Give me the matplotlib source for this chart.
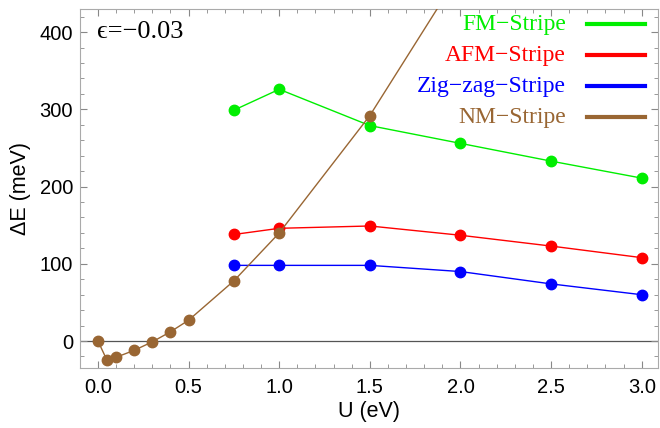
import matplotlib
matplotlib.use("Agg")
import matplotlib.pyplot as plt
from matplotlib.ticker import MultipleLocator

# donnees
u_nm = [0.0, 0.05, 0.1, 0.2, 0.3, 0.4, 0.5, 0.75, 1.0, 1.5, 2.0, 2.5, 3.0]
e_nm = [0, -25, -21, -12, -1, 12, 27, 78, 140, 292, 478, 660, 840]

u_mag = [0.75, 1.0, 1.5, 2.0, 2.5, 3.0]
e_fm = [299, 326, 279, 256, 233, 211]
e_afm = [138, 146, 149, 137, 123, 108]
e_zz = [98, 98, 98, 90, 74, 60]

noms = ["FM\u2212Stripe", "AFM\u2212Stripe", "Zig\u2212zag\u2212Stripe", "NM\u2212Stripe"]
couleurs = ["#00ee00", "#ff0000", "#0000ff", "#996633"]

plt.rcParams['font.family'] = ['Liberation Sans', 'DejaVu Sans']

fig = plt.figure(figsize=(6.6, 4.28), dpi=100)
ax = fig.add_axes([0.121, 0.14, 0.876, 0.839])

ax.axhline(0, color='#555555', lw=0.9, zorder=1)

series = [(u_mag, e_fm), (u_mag, e_afm), (u_mag, e_zz), (u_nm, e_nm)]
for (x, y), c in zip(series, couleurs):
    ax.plot(x, y, color=c, lw=1.0, marker='o', markersize=7.5, zorder=3)

ax.set_xlim(-0.1, 3.09)
ax.set_ylim(-35, 430)
ax.xaxis.set_major_locator(MultipleLocator(0.5))
ax.xaxis.set_minor_locator(MultipleLocator(0.1))
ax.yaxis.set_major_locator(MultipleLocator(100))
ax.yaxis.set_minor_locator(MultipleLocator(20))
ax.xaxis.set_major_formatter(matplotlib.ticker.FormatStrFormatter('%.1f'))
ax.tick_params(which='both', direction='in', top=True, right=True, colors='#888888',
               labelcolor='black', labelsize=14.5)
ax.tick_params(which='major', length=5)
ax.tick_params(which='minor', length=3)
ax.tick_params(axis='x', pad=7)
ax.tick_params(axis='y', pad=5)
for s in ax.spines.values():
    s.set_color('#aaaaaa')

ax.set_xlabel("U (eV)", fontsize=15.5, labelpad=3)
ax.set_ylabel("\u0394E (meV)", fontsize=15.5, labelpad=6)

serif = ['Liberation Serif', 'DejaVu Serif']
ax.text(0.029, 0.936, "\u03f5=\u22120.03", transform=ax.transAxes, fontsize=19,
        family=serif, va='center')

# legende faite a la main
for i, (n, c) in enumerate(zip(noms, couleurs)):
    yy = 0.958 - i * 0.0865
    ax.text(0.841, yy, n, transform=ax.transAxes, color=c, fontsize=17,
            family=serif, ha='right', va='center')
    ax.plot([0.877, 0.978], [yy, yy], transform=ax.transAxes, color=c,
            lw=3, clip_on=False, zorder=4)

fig.savefig("out.png", dpi=100)
